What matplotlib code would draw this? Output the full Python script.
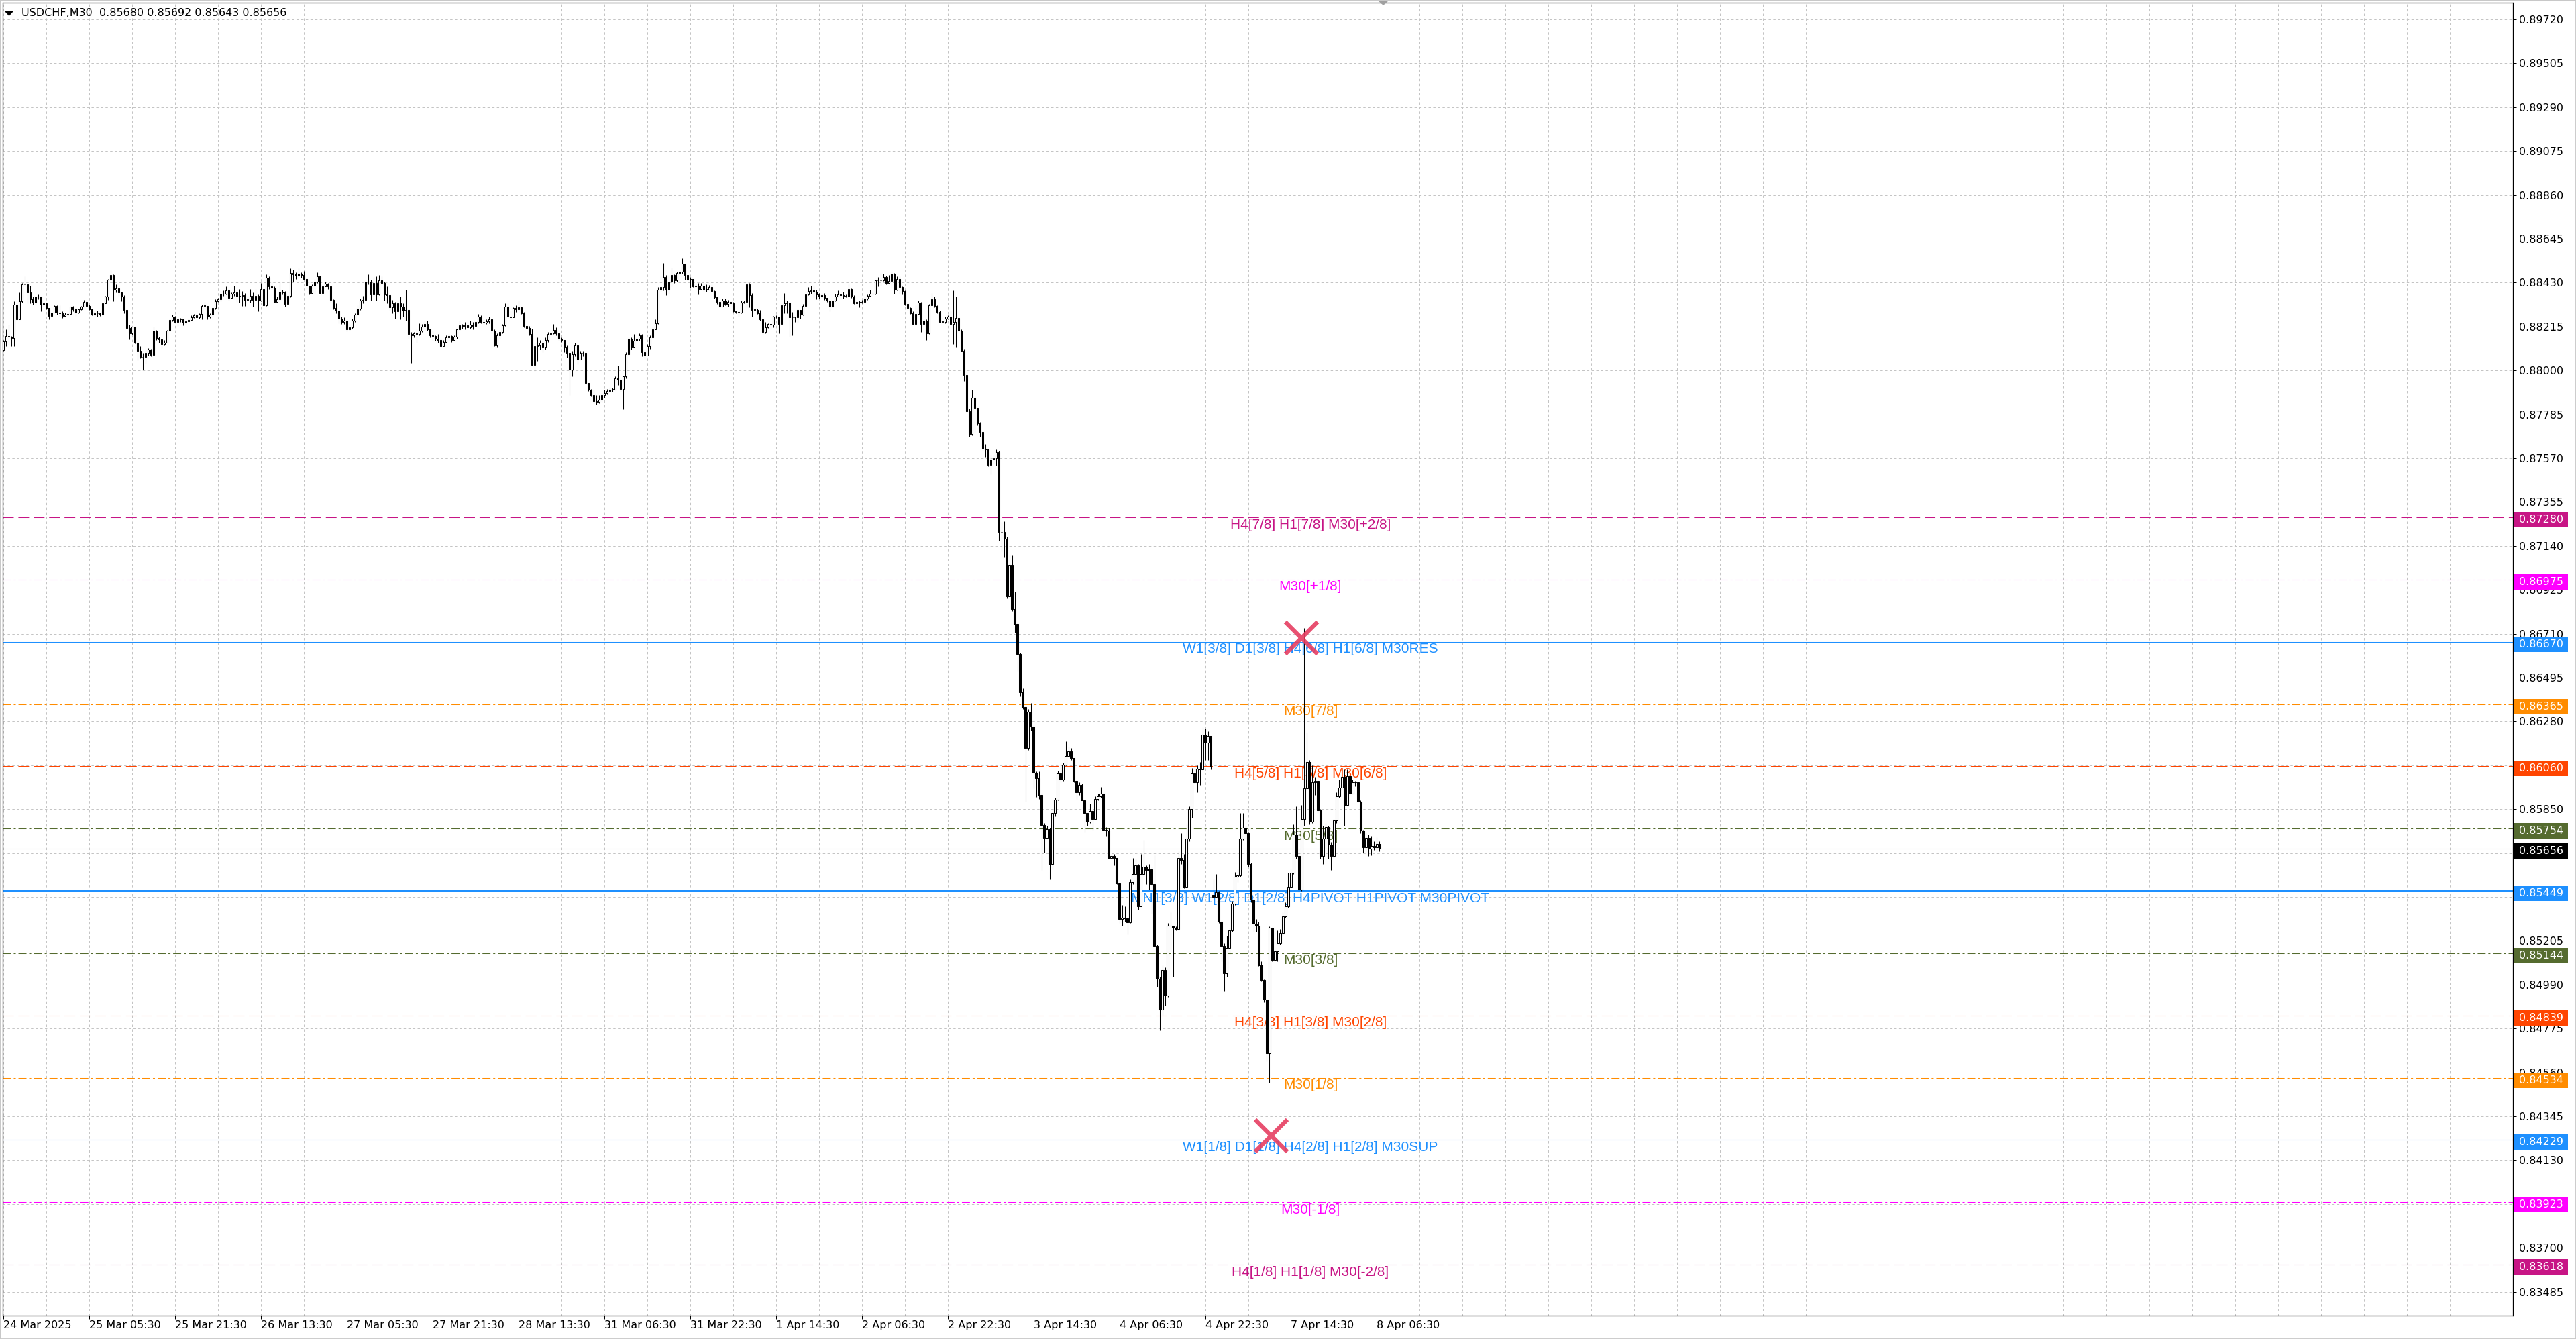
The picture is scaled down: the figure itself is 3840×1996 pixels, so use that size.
import matplotlib.pyplot as plt
from matplotlib.patches import Rectangle, Polygon
from matplotlib.transforms import blended_transform_factory

plt.rcParams['lines.scale_dashes'] = False

# USDCHF M30 bars, prices in points (1e-5)
close_pts = [
    88142, 88169, 88164, 88160, 88323, 88252, 88339, 88422, 88420, 88383,
    88350, 88334, 88361, 88361, 88323, 88328, 88306, 88268, 88284, 88315,
    88284, 88279, 88268, 88273, 88277, 88312, 88301, 88284, 88299, 88312,
    88336, 88317, 88301, 88273, 88279, 88281, 88273, 88328, 88361, 88444,
    88468, 88394, 88402, 88383, 88361, 88295, 88208, 88180, 88213, 88136,
    88095, 88065, 88068, 88087, 88103, 88076, 88194, 88160, 88151, 88128,
    88136, 88194, 88248, 88263, 88238, 88252, 88252, 88235, 88241, 88248,
    88259, 88270, 88259, 88277, 88317, 88317, 88263, 88273, 88306, 88339,
    88350, 88375, 88375, 88391, 88356, 88375, 88383, 88361, 88365, 88369,
    88347, 88347, 88367, 88347, 88367, 88343, 88400, 88321, 88454, 88411,
    88405, 88336, 88350, 88386, 88383, 88325, 88367, 88476, 88471, 88465,
    88473, 88468, 88449, 88416, 88380, 88416, 88433, 88460, 88380, 88411,
    88424, 88411, 88347, 88306,
    88292, 88254, 88238, 88243, 88202, 88211,
    88243, 88274, 88303, 88341, 88347, 88434, 88434, 88372, 88429, 88372,
    88440, 88429, 88372, 88369, 88309, 88331, 88289, 88331, 88314, 88292,
    88298, 88178, 88172, 88180, 88178, 88194, 88213, 88227, 88200, 88172,
    88167, 88156, 88150, 88118, 88140, 88161, 88167, 88150, 88165, 88200,
    88221, 88216, 88221, 88211, 88224, 88218, 88238, 88265, 88238, 88235,
    88241, 88249, 88194, 88123, 88172, 88187, 88221, 88314, 88265, 88260,
    88307, 88300, 88311, 88281, 88216, 88208, 88178, 88027, 88118, 88123,
    88134, 88112, 88150, 88178, 88183, 88197, 88180, 88154, 88147, 88112,
    88085, 88003, 88080, 88123, 88052, 88085, 88085, 87938, 87905, 87878,
    87850, 87845, 87856, 87878, 87889, 87899, 87905, 87905, 87960, 87954,
    87910, 87970, 88080, 88154, 88112, 88145, 88154, 88172, 88090, 88074,
    88118, 88161, 88200, 88232, 88396, 88407, 88456, 88396, 88434, 88467,
    88440, 88478, 88483, 88522, 88467, 88445, 88448, 88412, 88416, 88398,
    88416, 88396, 88396, 88407, 88387, 88358, 88336, 88314, 88341, 88325,
    88336, 88331, 88289, 88287, 88285, 88333, 88335, 88420, 88369, 88298,
    88298, 88281, 88249, 88189, 88211, 88227, 88224, 88263, 88265, 88227,
    88320, 88331, 88333, 88260, 88260, 88260, 88298, 88274, 88317, 88372,
    88388, 88391, 88385, 88372, 88361, 88369, 88355, 88341, 88314, 88341,
    88363, 88372, 88369, 88366, 88363, 88398, 88363, 88331, 88336, 88334,
    88336, 88352, 88366, 88374, 88374, 88440, 88442, 88440, 88456, 88429,
    88438, 88475, 88394, 88448, 88407, 88387, 88325, 88307, 88281, 88227,
    88278, 88333, 88227, 88245, 88183, 88320, 88350, 88317, 88287, 88238,
    88238, 88254, 88263, 88227, 88238, 88256, 88194, 88096, 87979, 87801,
    87687, 87867, 87818, 87741, 87698,
    87617, 87613, 87537, 87565, 87571,
    87600, 87208, 87208, 87177, 86894, 87047, 86831, 86758, 86611, 86423,
    86349, 86150, 86328, 86255, 86029, 86003, 85920, 85773, 85710,
    85752, 85581, 85832, 85897, 86026, 85995, 86067, 86110, 86135, 86101, 85988,
    85934, 85970, 85894, 85832, 85788, 85842, 85800, 85901, 85913, 85926,
    85750, 85746, 85612, 85621, 85612, 85487, 85312, 85318, 85315, 85295,
    85493, 85531, 85575, 85374, 85531, 85569, 85550, 85556, 85481, 85180,
    85020, 84867, 85061, 84936, 85280, 85278, 85268, 85262, 85612, 85600,
    85468, 85706, 85850, 86026, 85982, 86047, 86045, 86214, 86176, 86208,
    86057, 85421, 85443, 85299, 85180, 85045, 85170, 85255, 85387, 85518,
    85525, 85706, 85759, 85731, 85581, 85406, 85287, 85280, 85086, 85011,
    84917, 84654, 85268, 85111, 85155, 85193, 85243, 85324, 85374, 85468,
    85537, 85725, 85619, 85456, 85800, 85951, 86082, 85788, 85982, 85988,
    85844, 85619, 85706, 85763, 85675, 85619, 85794, 85913, 85957, 86007,
    85869, 86013, 85926, 85982, 85982, 85888, 85744, 85663, 85709, 85656,
    85671, 85663, 85680, 85656,
]

high_pts = [
    88150, 88202, 88224, 88169, 88339, 88328, 88383, 88427, 88460, 88422,
    88416, 88361, 88367, 88372, 88358, 88339, 88334, 88306, 88290, 88320,
    88321, 88320, 88290, 88284, 88284, 88314, 88317, 88306, 88303, 88317,
    88347, 88339, 88323, 88303, 88290, 88292, 88284, 88334, 88367, 88449,
    88490, 88471, 88422, 88411, 88383, 88369, 88301, 88224, 88215, 88213,
    88153, 88120, 88087, 88103, 88109, 88106, 88213, 88197, 88164, 88153,
    88147, 88197, 88252, 88273, 88268, 88257, 88257, 88244, 88246, 88255,
    88270, 88277, 88277, 88281, 88323, 88336, 88317, 88279, 88312, 88350,
    88356, 88380, 88391, 88411, 88397, 88383, 88416, 88394, 88400, 88389,
    88378, 88367, 88400, 88383, 88400, 88372, 88427, 88400, 88471, 88460,
    88433, 88411, 88361, 88433, 88394, 88389, 88372, 88501, 88493, 88482,
    88501, 88482, 88487, 88454, 88416, 88422, 88449, 88482, 88465, 88422,
    88433, 88427, 88416, 88350,
    88331, 88298, 88265, 88260, 88249, 88227,
    88254, 88281, 88320, 88352, 88366, 88445, 88472, 88445, 88456, 88462,
    88467, 88462, 88434, 88412, 88374, 88347, 88336, 88347, 88363, 88331,
    88396, 88303, 88189, 88189, 88200, 88232, 88227, 88243, 88243, 88205,
    88194, 88172, 88178, 88156, 88150, 88172, 88178, 88172, 88172, 88205,
    88243, 88227, 88238, 88238, 88243, 88238, 88245, 88276, 88271, 88249,
    88252, 88265, 88254, 88200, 88183, 88194, 88227, 88331, 88331, 88292,
    88311, 88320, 88341, 88309, 88287, 88221, 88216, 88205, 88134, 88161,
    88150, 88145, 88161, 88189, 88189, 88227, 88211, 88183, 88161, 88150,
    88123, 88041, 88096, 88134, 88129, 88096, 88096, 88090, 87938, 87910,
    87905, 87878, 87878, 87889, 87905, 87910, 87916, 87916, 87970, 88025,
    87960, 87976, 88090, 88161, 88161, 88178, 88161, 88183, 88178, 88107,
    88129, 88172, 88211, 88249, 88407, 88462, 88527, 88467, 88467, 88505,
    88472, 88483, 88489, 88549, 88525, 88472, 88456, 88445, 88423, 88427,
    88429, 88429, 88423, 88418, 88420, 88391, 88363, 88347, 88352, 88352,
    88347, 88341, 88336, 88292, 88292, 88341, 88341, 88434, 88427, 88380,
    88303, 88303, 88298, 88252, 88238, 88232, 88227, 88267, 88271, 88265,
    88331, 88380, 88341, 88336, 88287, 88265, 88303, 88281, 88325, 88376,
    88407, 88416, 88412, 88396, 88380, 88380, 88380, 88355, 88347, 88347,
    88374, 88391, 88380, 88385, 88372, 88423, 88402, 88369, 88341, 88341,
    88347, 88361, 88372, 88396, 88383, 88445, 88456, 88478, 88475, 88464,
    88467, 88483, 88478, 88462, 88462, 88412, 88391, 88336, 88311, 88289,
    88320, 88344, 88336, 88252, 88249, 88325, 88380, 88363, 88320, 88292,
    88243, 88265, 88271, 88292, 88391, 88363, 88260, 88200, 88107, 87992,
    87812, 87905, 87872, 87818, 87747,
    87701, 87638, 87592, 87586, 87586,
    87613, 87607, 87257, 87261, 87187, 87093, 87093, 86915, 86768, 86615,
    86444, 86360, 86339, 86370, 86265, 86035, 86035, 85930, 85783,
    85769, 85759, 85850, 85907, 86038, 86076, 86076, 86183, 86158, 86151, 86101,
    85995, 85982, 85976, 85844, 85819, 85876, 85850, 85913, 85926, 85960,
    85932, 85763, 85759, 85637, 85631, 85612, 85493, 85381, 85374, 85318,
    85506, 85612, 85606, 85581, 85631, 85700, 85575, 85581, 85569, 85625,
    85186, 85030, 85086, 85074, 85293, 85343, 85280, 85274, 85644, 85731,
    85631, 85775, 85863, 86051, 86057, 86064, 86082, 86251, 86245, 86233,
    86210, 85506, 85531, 85450, 85305, 85193, 85230, 85268, 85399, 85543,
    85556, 85832, 85832, 85769, 85738, 85587, 85412, 85312, 85299, 85105,
    85017, 84917, 85274, 85268, 85262, 85255, 85262, 85343, 85393, 85537,
    85556, 85775, 85863, 85656, 85869, 86737, 86226, 86089, 86064, 86007,
    85995, 85850, 85769, 85782, 85769, 85688, 85800, 85932, 85995, 86051,
    86045, 86045, 86026, 85995, 85988, 85982, 85894, 85750, 85731, 85725,
    85719, 85694, 85713, 85692,
]

low_pts = [
    88095, 88120, 88125, 88120, 88120, 88246, 88252, 88334, 88411, 88328,
    88328, 88323, 88323, 88350, 88290, 88312, 88301, 88252, 88263, 88290,
    88273, 88268, 88257, 88263, 88268, 88273, 88290, 88268, 88279, 88295,
    88312, 88312, 88295, 88270, 88268, 88263, 88268, 88270, 88328, 88345,
    88438, 88339, 88383, 88367, 88339, 88281, 88202, 88153, 88175, 88131,
    88049, 88060, 88003, 88032, 88073, 88071, 88076, 88147, 88136, 88109,
    88123, 88136, 88191, 88241, 88233, 88219, 88237, 88222, 88224, 88244,
    88246, 88257, 88257, 88255, 88252, 88301, 88252, 88257, 88268, 88301,
    88336, 88339, 88367, 88372, 88343, 88353, 88367, 88336, 88334, 88317,
    88317, 88343, 88334, 88312, 88345, 88290, 88339, 88317, 88317, 88400,
    88394, 88334, 88334, 88343, 88372, 88312, 88323, 88358, 88433, 88449,
    88454, 88454, 88444, 88400, 88372, 88380, 88378, 88427, 88378, 88383,
    88411, 88400, 88332, 88301,
    88281, 88232, 88227, 88227, 88191, 88194,
    88205, 88238, 88271, 88298, 88331, 88341, 88423, 88341, 88363, 88341,
    88369, 88418, 88341, 88331, 88298, 88281, 88254, 88281, 88249, 88265,
    88243, 88156, 88036, 88161, 88136, 88172, 88189, 88194, 88194, 88161,
    88145, 88145, 88134, 88112, 88123, 88134, 88145, 88140, 88156, 88156,
    88194, 88205, 88200, 88205, 88205, 88200, 88227, 88232, 88232, 88227,
    88227, 88232, 88183, 88118, 88112, 88156, 88183, 88216, 88254, 88249,
    88281, 88287, 88298, 88276, 88211, 88200, 88172, 88025, 87998, 88047,
    88101, 88090, 88101, 88140, 88172, 88178, 88172, 88145, 88140, 88090,
    88063, 87878, 87970, 88069, 88030, 88052, 88069, 87932, 87899, 87872,
    87839, 87834, 87839, 87845, 87867, 87883, 87894, 87894, 87905, 87927,
    87894, 87809, 87960, 88074, 88101, 88112, 88145, 88145, 88069, 88058,
    88096, 88107, 88156, 88200, 88227, 88385, 88391, 88369, 88374, 88412,
    88429, 88434, 88467, 88475, 88445, 88440, 88405, 88409, 88407, 88372,
    88396, 88385, 88385, 88398, 88385, 88352, 88325, 88311, 88320, 88320,
    88314, 88320, 88287, 88281, 88265, 88281, 88331, 88311, 88309, 88263,
    88292, 88278, 88245, 88178, 88183, 88208, 88202, 88211, 88256, 88183,
    88224, 88281, 88281, 88165, 88172, 88238, 88235, 88254, 88271, 88314,
    88369, 88374, 88358, 88350, 88352, 88352, 88347, 88336, 88289, 88311,
    88339, 88361, 88350, 88352, 88358, 88363, 88355, 88325, 88325, 88311,
    88331, 88331, 88347, 88363, 88369, 88372, 88412, 88416, 88438, 88423,
    88427, 88402, 88376, 88391, 88374, 88372, 88320, 88298, 88276, 88224,
    88221, 88274, 88189, 88216, 88150, 88178, 88314, 88309, 88281, 88235,
    88232, 88230, 88252, 88224, 88129, 88112, 88189, 88093, 87949, 87796,
    87676, 87681, 87698, 87730, 87676,
    87607, 87575, 87529, 87491, 87544,
    87533, 87166, 87114, 87083, 86884, 86884, 86821, 86716, 86527, 86402,
    86339, 85887, 86140, 86234, 85951, 85909, 85899, 85553, 85637,
    85731, 85506, 85556, 85813, 85894, 85982, 85988, 86064, 86107, 86089, 85982,
    85901, 85919, 85892, 85738, 85769, 85782, 85750, 85797, 85892, 85907,
    85744, 85719, 85606, 85606, 85575, 85481, 85293, 85280, 85299, 85236,
    85293, 85481, 85406, 85356, 85456, 85518, 85481, 85456, 85337, 85174,
    84980, 84767, 84842, 84886, 84929, 85155, 85030, 85255, 85255, 85581,
    85462, 85466, 85694, 85807, 85976, 85932, 85970, 86045, 86089, 86089,
    86045, 85406, 85424, 85293, 85105, 84961, 85030, 85136, 85249, 85381,
    85493, 85518, 85700, 85706, 85569, 85393, 85249, 85249, 85080, 85005,
    84904, 84616, 84510, 85105, 85105, 85105, 85186, 85230, 85318, 85368,
    85462, 85531, 85606, 85443, 85450, 85769, 85944, 85775, 85782, 85919,
    85832, 85606, 85581, 85656, 85606, 85550, 85612, 85782, 85907, 85944,
    85769, 85913, 85919, 85926, 85963, 85882, 85731, 85637, 85631, 85619,
    85625, 85650, 85644, 85643,
]

first_open = 88100
gap_opens = {451: 85430}  # Monday 7 Apr opened with a gap

x_labels = ['24 Mar 2025', '25 Mar 05:30', '25 Mar 21:30', '26 Mar 13:30', '27 Mar 05:30',
            '27 Mar 21:30', '28 Mar 13:30', '31 Mar 06:30', '31 Mar 22:30', '1 Apr 14:30',
            '2 Apr 06:30', '2 Apr 22:30', '3 Apr 14:30', '4 Apr 06:30', '4 Apr 22:30',
            '7 Apr 14:30', '8 Apr 06:30']
label_every = 32
grid_every = 16

y_first_tick = 0.83485
y_tick_step = 0.00215
y_tick_count = 30

# Murrey math levels
levels = [0.87280, 0.86975, 0.86670, 0.86365, 0.86060, 0.85754, 0.85449,
          0.85144, 0.84839, 0.84534, 0.84229, 0.83923, 0.83618]
level_names = ['H4[7/8] H1[7/8] M30[+2/8]', 'M30[+1/8]',
               'W1[3/8] D1[3/8] H4[6/8] H1[6/8] M30RES', 'M30[7/8]',
               'H4[5/8] H1[5/8] M30[6/8]', 'M30[5/8]',
               'MN1[3/8] W1[2/8] D1[2/8] H4PIVOT H1PIVOT M30PIVOT', 'M30[3/8]',
               'H4[3/8] H1[3/8] M30[2/8]', 'M30[1/8]',
               'W1[1/8] D1[1/8] H4[2/8] H1[2/8] M30SUP', 'M30[-1/8]',
               'H4[1/8] H1[1/8] M30[-2/8]']
level_colors = ['#C71585', '#FF00FF', '#1E90FF', '#FF8C00', '#FF4500', '#556B2F', '#1E90FF',
                '#556B2F', '#FF4500', '#FF8C00', '#1E90FF', '#FF00FF', '#C71585']
level_kinds = ['dash', 'dashdot', 'solid', 'dashdot', 'dash', 'dashdot', 'pivot',
               'dashdot', 'dash', 'dashdot', 'solid', 'dashdot', 'dash']
label_bar = 487.25

mark_bars = [484, 472.6]
mark_prices = [0.86690, 0.84250]

# ---- build OHLC
n = len(close_pts)
idx = list(range(n))
open_pts = [first_open] + close_pts[:-1]
for k, v in gap_opens.items():
    open_pts[k] = v
o = [v / 1e5 for v in open_pts]
c = [v / 1e5 for v in close_pts]
h = [max(high_pts[i], open_pts[i], close_pts[i]) / 1e5 for i in idx]
l = [min(low_pts[i], open_pts[i], close_pts[i]) / 1e5 for i in idx]

W, H = 3840, 1996
fig = plt.figure(figsize=(W / 100, H / 100), dpi=100)
fig.patch.set_facecolor('white')
ax = fig.add_axes([4 / W, (H - 1961) / H, 3742 / W, 1957 / H])
ax.set_xlim(-0.25, 935.5)
ax.set_ylim(0.833686, 0.898022)
px = (0.898022 - 0.833686) / 1957  # price per pixel

# grid
yt = [y_first_tick + y_tick_step * k for k in range(y_tick_count)]
ax.set_yticks(yt)
ax.set_yticklabels(['%.5f' % v for v in yt])
ax.yaxis.tick_right()
ax.set_xticks([label_every * k for k in range(len(x_labels))])
ax.set_xticklabels(x_labels)
for t in ax.get_xticklabels():
    t.set_ha('left')
ax.set_xticks(list(range(0, 936, grid_every)), minor=True)
ax.grid(True, which='both', color='#C4C4C4', lw=0.72, linestyle=(0, (2.5, 2.5)))
ax.set_axisbelow(True)
ax.tick_params(axis='x', which='major', length=3.6, width=0.72, pad=1.5,
               labelsize=11.5, direction='out')
ax.tick_params(axis='x', which='minor', length=0)
ax.tick_params(axis='y', length=3.6, width=0.72, pad=3, labelsize=11.5, direction='out')
for s in ax.spines.values():
    s.set_linewidth(0.9)
    s.set_color('black')

# level lines
styles = {'dash': (0, (11.5, 5)), 'dashdot': (0, (8.6, 2.9, 2.2, 2.9)),
          'solid': '-', 'pivot': '-'}
for lvl, name, col, kind in zip(levels, level_names, level_colors, level_kinds):
    ax.axhline(lvl, color=col, lw=1.6 if kind == 'pivot' else 0.75,
               linestyle=styles[kind], zorder=1.8)
    ax.annotate(name, xy=(label_bar, lvl), xytext=(0, -11), textcoords='offset pixels',
                ha='center', va='center', color=col, fontsize=15,
                family='Liberation Sans', zorder=2)

last_price = c[-1]
ax.axhline(last_price, color='#BDBDBD', lw=0.75, zorder=1.9)

# candles
ax.vlines(idx, l, h, color='black', lw=0.75, zorder=3)
up = [i for i in idx if c[i] >= o[i]]
dn = [i for i in idx if c[i] < o[i]]
min_h = 0.6 * px
ax.bar(up, [max(c[i] - o[i], min_h) for i in up], bottom=[o[i] for i in up], width=0.55,
       color='white', edgecolor='black', lw=0.75, zorder=4)
ax.bar(dn, [max(o[i] - c[i], min_h) for i in dn], bottom=[c[i] for i in dn], width=0.55,
       color='black', edgecolor='black', lw=0.75, zorder=4)

ax.plot(mark_bars, mark_prices, 'x', ms=34, mew=4.5, color='#E63E62', alpha=0.9, zorder=6)

# price boxes on the right scale (sit a few pixels below their level)
trans = blended_transform_factory(ax.transAxes, ax.transData)
box_x0 = (3748 - 4) / 3742
box_w = 80 / 3742
text_x = (3755 - 4) / 3742
box_h = 23 * px
drop = 3.5 * px
for lvl, col in list(zip(levels, level_colors)) + [(last_price, 'black')]:
    yc = lvl - drop
    ax.add_patch(Rectangle((box_x0, yc - box_h / 2), box_w, box_h, transform=trans,
                           facecolor=col, edgecolor='none', clip_on=False, zorder=10))
    ax.text(text_x, yc, '%.5f' % lvl, transform=trans, ha='left', va='center',
            color='white', fontsize=11.5, clip_on=False, zorder=11)

# header
title = 'USDCHF,M30  %.5f %.5f %.5f %.5f' % (o[-1], h[-1], l[-1], c[-1])
fig.text(32 / W, 1 - 20 / H, title, ha='left', va='center', fontsize=11.5, color='black')
fig.patches.append(Polygon([(8 / W, 1 - 17 / H), (19 / W, 1 - 17 / H), (13.5 / W, 1 - 23 / H)],
                           closed=True, transform=fig.transFigure, color='black'))
fig.patches.append(Polygon([(2055 / W, 1 - 1 / H), (2069 / W, 1 - 1 / H), (2062 / W, 1 - 7 / H)],
                           closed=True, transform=fig.transFigure, color='#A0A0A0'))
fig.patches.append(Rectangle((0, 0), 1, 1, transform=fig.transFigure, fill=False,
                             edgecolor='#C8C8C8', lw=2))

fig.savefig('out.png', dpi=100)
